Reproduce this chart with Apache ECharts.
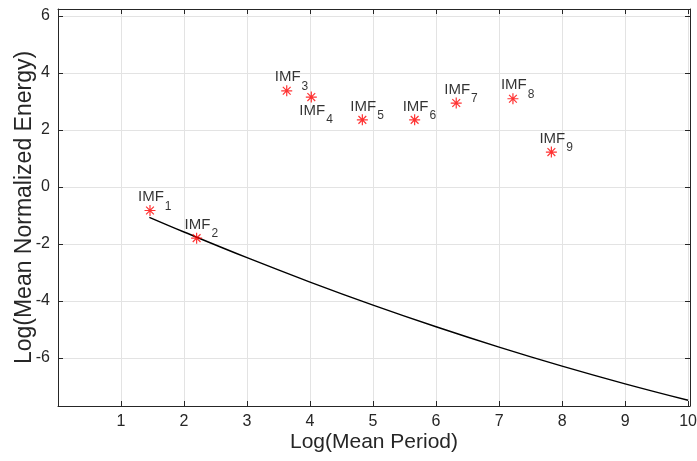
<!DOCTYPE html>
<html>
<head>
<meta charset="utf-8">
<script src="https://cdn.jsdelivr.net/npm/echarts@6/dist/echarts.min.js"></script>
<style>
  html, body { margin: 0; padding: 0; background: #fff; }
  #chart { width: 697px; height: 461px; }
</style>
</head>
<body>
<div id="chart"></div>
<script>
// IMF components: log mean period vs. log mean normalized energy
const imfIndex = [1, 2, 3, 4, 5, 6, 7, 8, 9];
const logPeriod = [1.46, 2.20, 3.63, 4.02, 4.83, 5.66, 6.32, 7.22, 7.83];
const logEnergy = [-0.83, -1.80, 3.37, 3.15, 2.35, 2.35, 2.94, 3.09, 1.22];

// reference spread line
const curvePeriod = [1.45, 2, 3, 4, 5, 6, 7, 8, 9, 10];
const curveEnergy = [-1.07, -1.585, -2.487, -3.341, -4.15, -4.91, -5.625, -6.293, -6.914, -7.49];

// axis ticks
const xTicks = [1, 2, 3, 4, 5, 6, 7, 8, 9, 10];
const yTicks = [-6, -4, -2, 0, 2, 4, 6];

// labels drawn beneath their marker instead of above
const labelBelow = [4];

const FONT = 'Liberation Sans, Arial, Helvetica, sans-serif';
const AXIS_COLOR = '#262626';
const GRID_COLOR = '#e3e3e3';

const chart = echarts.init(document.getElementById('chart'));

const starPath = 'path://M5,0L5,10M0,5L10,5M1.46,1.46L8.54,8.54M1.46,8.54L8.54,1.46';

const points = imfIndex.map((k, i) => {
  const below = labelBelow.includes(k);
  return {
    value: [logPeriod[i], logEnergy[i]],
    idx: k,
    label: { offset: below ? [-12, 6] : [-12, -21] }
  };
});

function axisBase(extra) {
  return Object.assign({
    type: 'value',
    axisLine: { show: true, onZero: false, lineStyle: { color: AXIS_COLOR, width: 1 } },
    axisTick: { show: true, inside: true, length: 5, lineStyle: { color: AXIS_COLOR } },
    splitLine: { show: false },
    axisLabel: { show: false }
  }, extra);
}

chart.setOption({
  animation: false,
  backgroundColor: '#fff',
  grid: { left: 58, right: 7, top: 9, bottom: 55, containLabel: false, outerBoundsMode: 'none' },
  xAxis: [
    axisBase({
      position: 'bottom',
      min: 0, max: 10.03, interval: 1,
      name: 'Log(Mean Period)',
      nameLocation: 'middle',
      nameGap: 26,
      nameMoveOverlap: false,
      nameTextStyle: { fontFamily: FONT, fontSize: 21, color: AXIS_COLOR },
      axisTick: { show: true, inside: true, length: 5, lineStyle: { color: AXIS_COLOR }, customValues: xTicks },
      axisLabel: { show: true, customValues: xTicks, fontFamily: FONT, fontSize: 16, color: AXIS_COLOR, margin: 8 },
      splitLine: { show: true, lineStyle: { color: GRID_COLOR, width: 1 } }
    }),
    axisBase({
      position: 'top',
      min: 0, max: 10.03, interval: 1,
      axisTick: { show: true, inside: true, length: 5, lineStyle: { color: AXIS_COLOR }, customValues: xTicks }
    })
  ],
  yAxis: [
    axisBase({
      position: 'left',
      min: -7.69, max: 6.24,
      name: 'Log(Mean Normalized Energy)',
      nameLocation: 'middle',
      nameGap: 22,
      nameMoveOverlap: false,
      nameTextStyle: { fontFamily: FONT, fontSize: 23, color: AXIS_COLOR },
      axisTick: { show: true, inside: true, length: 5, lineStyle: { color: AXIS_COLOR }, customValues: yTicks },
      axisLabel: { show: true, customValues: yTicks, fontFamily: FONT, fontSize: 16, color: AXIS_COLOR, margin: 8 },
      splitLine: { show: true, lineStyle: { color: GRID_COLOR, width: 1 } }
    }),
    axisBase({
      position: 'right',
      min: -7.69, max: 6.24,
      axisTick: { show: true, inside: true, length: 5, lineStyle: { color: AXIS_COLOR }, customValues: yTicks }
    })
  ],
  series: [
    {
      type: 'line',
      xAxisIndex: 0, yAxisIndex: 0,
      data: curvePeriod.map((x, i) => [x, curveEnergy[i]]),
      smooth: 0.4,
      showSymbol: false,
      symbol: 'none',
      lineStyle: { color: '#000', width: 1.4 },
      z: 2
    },
    {
      type: 'scatter',
      xAxisIndex: 0, yAxisIndex: 0,
      data: points,
      symbol: starPath,
      symbolSize: 11,
      itemStyle: { color: 'rgba(0,0,0,0)', borderColor: '#ff0000', borderWidth: 1.2 },
      label: {
        show: true,
        position: 'inside',
        align: 'left',
        verticalAlign: 'top',
        formatter: p => '{m|IMF}{s|' + p.data.idx + '}',
        rich: {
          m: { fontFamily: FONT, fontSize: 15, lineHeight: 15, color: '#000', verticalAlign: 'top' },
          s: { fontFamily: FONT, fontSize: 12, lineHeight: 12, color: '#000', verticalAlign: 'top', padding: [11, 0, 0, 1] }
        }
      },
      z: 3
    }
  ]
});
</script>
</body>
</html>
